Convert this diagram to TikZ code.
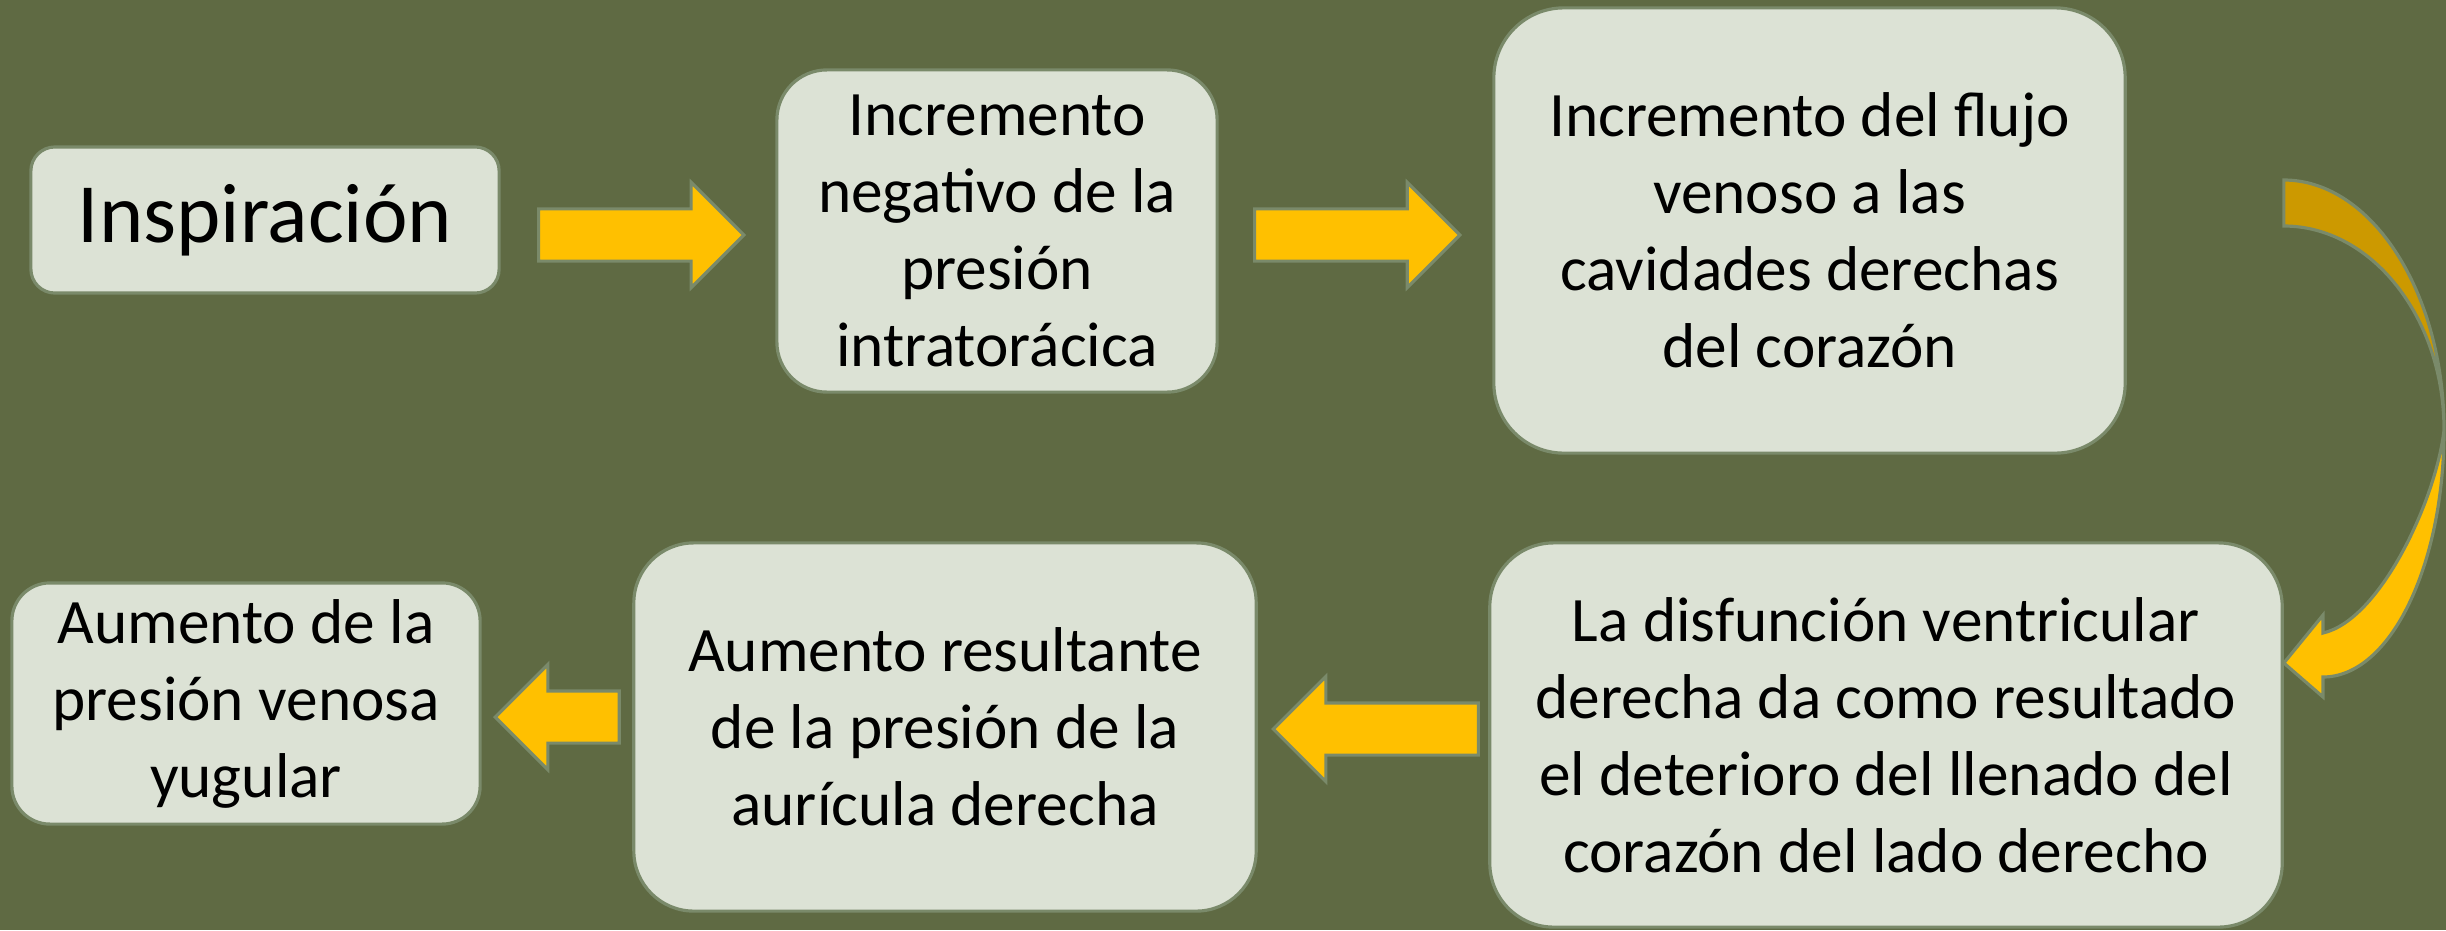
\documentclass[tikz,border=0pt]{standalone}
\usepackage{fontspec}
\setmainfont{Carlito}
\usepackage{tikz}
\usetikzlibrary{shapes.arrows}

\definecolor{fondo}{RGB}{95,106,67}
\definecolor{cajafondo}{RGB}{220,226,213}
\definecolor{borde}{RGB}{122,138,106}
\definecolor{amarillo}{RGB}{255,192,0}
\definecolor{ocre}{RGB}{204,153,0}

\newcommand{\textonormal}{\fontsize{18}{21.9}\selectfont}
\newcommand{\textogrande}{\fontsize{24}{29}\selectfont}

\tikzset{
x=0.01cm, y=-0.01cm, % one unit is one pixel of the slide, y runs downwards
caja/.style={draw=borde, fill=cajafondo, line width=0.9pt, rounded corners=#1, align=center, inner sep=0pt, font=\textonormal}, % the light boxes
flecha/.style={single arrow, draw=borde, fill=amarillo, line width=0.9pt, minimum height=2.05cm, minimum width=1.02cm, single arrow head extend=0.265cm, inner sep=0pt, text height=0.245cm, text depth=0.245cm, anchor=tip}, % the straight block arrows
curva/.style={draw=borde, line width=0.9pt, line join=miter}, % the bent arrow on the right
}

\begin{document}
\begin{tikzpicture}
        \useasboundingbox (0,0) rectangle (2446,930);
        \fill[fondo] (0,0) rectangle (2446,930);

        % upper row
        \node[caja=0.24cm, minimum width=4.68cm, minimum height=1.46cm, font=\textogrande] (ins) at (265,220) {Inspiración};
        \node[caja=0.5cm, minimum width=4.40cm, minimum height=3.22cm] (neg) at (997,231) {Incremento\\negativo de la\\presión\\intratorácica};
        \node[caja=0.7cm, minimum width=6.31cm, minimum height=4.45cm] (flu) at (1809.5,230.5) {Incremento del flujo\\venoso a las\\cavidades derechas\\del corazón};

        % lower row
        \node[caja=0.64cm, minimum width=7.92cm, minimum height=3.84cm] (dis) at (1886,735) {La disfunción ventricular\\derecha da como resultado\\el deterioro del llenado del\\corazón del lado derecho};
        \node[caja=0.6cm, minimum width=6.22cm, minimum height=3.68cm] (res) at (945,727) {Aumento resultante\\de la presión de la\\aurícula derecha};
        \node[caja=0.38cm, minimum width=4.68cm, minimum height=2.41cm] (yug) at (246,703.5) {Aumento de la\\presión venosa\\yugular};

        % block arrows, placed by their tips
        \node[flecha] (f1) at (746,235) {};
        \node[flecha] (f2) at (1462,235) {};
        \node[flecha, shape border rotate=180] (f3) at (1271,729) {};
        \node[flecha, shape border rotate=180, minimum height=1.24cm] (f4) at (493,717) {};

        % bent arrow from the upper row down to dis
        \coordinate (cola1) at (dis.east |- 0,180);
        \coordinate (cola2) at (dis.east |- 0,226);
        \coordinate (giro) at (2444,430);
        \coordinate (punta) at (dis.east |- 0,663);
        \draw[curva, fill=ocre] (cola1) .. controls (2371,180) and (2444,292) .. (giro)
            .. controls (2444,317) and (2371,226) .. (cola2) -- cycle;
        \draw[curva, fill=amarillo] (giro) .. controls (2444,566) and (2390,677) .. (2323,677)
            -- (2323,697) -- (punta) -- (2323,615) -- (2323,633)
            .. controls (2380,620) and (2436,500) .. (giro) -- cycle;
    \end{tikzpicture}
\end{document}
